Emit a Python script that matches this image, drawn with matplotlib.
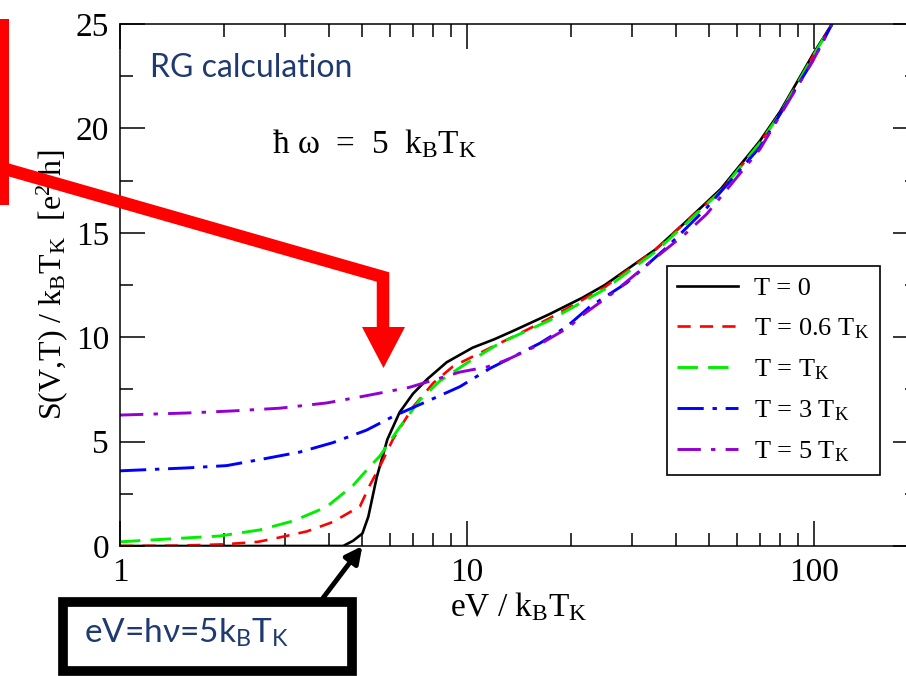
import numpy as np
import matplotlib
matplotlib.use('Agg')
import matplotlib.pyplot as plt
from matplotlib.patches import Rectangle, Polygon
from matplotlib.lines import Line2D
from matplotlib.ticker import LogLocator, NullFormatter, MultipleLocator

plt.rcParams['font.family'] = 'Liberation Serif'
plt.rcParams['mathtext.fontset'] = 'custom'
plt.rcParams['mathtext.rm'] = 'Liberation Serif'
plt.rcParams['mathtext.it'] = 'Liberation Serif:italic'
plt.rcParams['mathtext.sf'] = 'Lato'

# curves: eV/kT_K vs S(V,T)/kT_K
x_t0 = [1, 2, 3, 4, 4.4, 4.7, 5.0, 5.2, 5.5, 5.9, 6.4, 7.0, 7.7, 8.75, 10.4, 12, 13.6,
        17.3, 21.6, 25, 35, 42, 54, 70, 80, 100, 113]
s_t0 = [0, 0, 0, 0, 0, 0.25, 0.6, 1.4, 3.3, 5.1, 6.4, 7.3, 8.0, 8.8, 9.5, 9.9, 10.3,
        11.1, 11.9, 12.5, 14.2, 15.4, 17.1, 19.4, 20.8, 23.6, 25]

x_t06 = [1, 1.5, 2, 2.5, 2.83, 3.46, 4.11, 4.92, 5.25, 5.61, 6.12, 7.0, 8.0, 9.12, 11.4,
         14.9, 17.3, 21.6, 25, 35, 42, 54, 70, 80, 100, 113]
s_t06 = [0, 0.02, 0.08, 0.2, 0.38, 0.7, 1.15, 1.9, 2.9, 3.8, 5.1, 6.66, 7.8, 8.6, 9.4,
         10.35, 10.9, 11.8, 12.4, 14.2, 15.4, 17.0, 19.3, 20.7, 23.5, 25]

x_t1 = [1, 1.94, 2.53, 3.16, 3.94, 4.7, 5.25, 5.61, 6.41, 7.33, 8.36, 10, 12.4, 17.3,
        21.6, 25, 35, 42, 54, 70, 80, 100, 113]
s_t1 = [0.2, 0.48, 0.77, 1.2, 1.87, 2.9, 3.8, 4.3, 5.7, 7.0, 7.9, 8.76, 9.7, 10.8,
        11.7, 12.3, 14.1, 15.3, 17.0, 19.3, 20.7, 23.5, 25]

x_t3 = [1, 1.56, 2.03, 2.65, 3.3, 4.11, 5.14, 6.12, 7.47, 8.36, 9.55, 11.65, 16.2, 19.4,
        22.6, 28.9, 37.7, 49.2, 70, 100, 113]
s_t3 = [3.6, 3.74, 3.85, 4.2, 4.5, 4.95, 5.55, 6.2, 6.84, 7.2, 7.63, 8.5, 9.7, 10.5,
        11.45, 12.6, 14.3, 16.2, 19.1, 23.3, 25]

x_t5 = [1, 1.56, 2.12, 2.89, 3.94, 5.14, 6.84, 9.55, 11.4, 13.0, 16.2, 19.8, 21.2, 26.3,
        34.4, 43, 49.2, 70, 100, 113]
s_t5 = [6.27, 6.37, 6.47, 6.6, 6.85, 7.2, 7.6, 8.33, 8.57, 8.9, 9.65, 10.5, 10.97, 12.1,
        13.7, 15.0, 15.9, 19.0, 23.3, 25]

labels = ['T = 0', 'T = 0.6 T$_\\mathrm{K}$', 'T = T$_\\mathrm{K}$',
          'T = 3 T$_\\mathrm{K}$', 'T = 5 T$_\\mathrm{K}$']

W, H = 906, 676
fig = plt.figure(figsize=(W / 100, H / 100), dpi=100)
ax = fig.add_axes([120 / W, 130 / H, 798 / W, 522 / H])


def fx(px):
    return px / W


def fy(py):
    return 1 - py / H


ax.plot(x_t0, s_t0, color='black', lw=1.9, label=labels[0])
ax.plot(x_t06, s_t06, color='red', lw=1.9, ls=(0, (5, 3.5)), label=labels[1])
ax.plot(x_t1, s_t1, color='#00ee00', lw=2.1, ls=(0, (7, 3.5)), label=labels[2])
ax.plot(x_t3, s_t3, color='blue', lw=2.1, ls=(0, (9, 3, 1.5, 3)), label=labels[3])
ax.plot(x_t5, s_t5, color='#9400d3', lw=2.1, ls=(0, (8, 3.5, 1.5, 3.5)), label=labels[4])

ax.set_xscale('log')
ax.set_xlim(1, 200)
ax.set_ylim(0, 25)
ax.set_xticks([1, 10, 100], ['1', '10', '100'])
ax.xaxis.set_minor_locator(LogLocator(subs=np.arange(2, 10)))
ax.xaxis.set_minor_formatter(NullFormatter())
ax.yaxis.set_major_locator(MultipleLocator(5))
ax.yaxis.set_minor_locator(MultipleLocator(2.5))
ax.tick_params(which='both', direction='in', top=True, right=True, labelsize=24, width=1.1)
ax.tick_params(which='major', length=18, pad=8)
ax.tick_params(which='minor', length=9.5)
for sp in ax.spines.values():
    sp.set_linewidth(1.1)

ax.set_xlabel('eV / k$_\\mathrm{B}$T$_\\mathrm{K}$', fontsize=24, labelpad=2)
ax.set_ylabel('S(V,T) / k$_\\mathrm{B}$T$_\\mathrm{K}$  [e$^2$ h]', fontsize=23, labelpad=4)

leg = ax.legend(loc='upper left', bbox_to_anchor=(0.685, 0.536), fontsize=19,
                fancybox=False, edgecolor='black', framealpha=1, handlelength=2.3,
                handletextpad=0.6, labelspacing=0.62, borderpad=0.4, borderaxespad=0)
leg.get_frame().set_linewidth(1.2)

fig.text(fx(150), fy(68), 'RG calculation', fontsize=23, family=['Lato', 'DejaVu Sans'],
         color='#1f3a70', va='center', ha='left')
fig.text(fx(272), fy(153), 'ħ ω  =  5  k$_\\mathrm{B}$T$_\\mathrm{K}$', fontsize=24,
         va='baseline', ha='left')

# red arrow overlay
fig.add_artist(Rectangle((fx(0), fy(205)), 9 / W, 186 / H, color='red', lw=0))
fig.add_artist(Line2D([fx(-5), fx(383), fx(383)], [fy(166), fy(277), fy(330)],
                      lw=9, color='red', solid_joinstyle='miter'))
fig.add_artist(Polygon([(fx(362), fy(327)), (fx(405), fy(327)), (fx(383.5), fy(368))],
                       closed=True, color='red', lw=0))

# boxed note with arrow
fig.add_artist(Rectangle((fx(63), fy(671)), 289 / W, 69 / H, fill=False,
                         lw=7, edgecolor='black'))
fig.text(fx(84), fy(642), 'eV=hν=5k$_\\mathsf{B}$T$_\\mathsf{K}$', fontsize=24,
         family=['Lato', 'DejaVu Sans'], color='#1f3a70', va='baseline', ha='left')
ax.annotate('', xy=(5, 0), xycoords='data', xytext=(fx(323), fy(598)),
            textcoords='figure fraction', annotation_clip=False, zorder=10,
            arrowprops=dict(arrowstyle='-|>', lw=3.5, color='black',
                            mutation_scale=25, shrinkA=0, shrinkB=0))

fig.savefig('out.png', dpi=100)
